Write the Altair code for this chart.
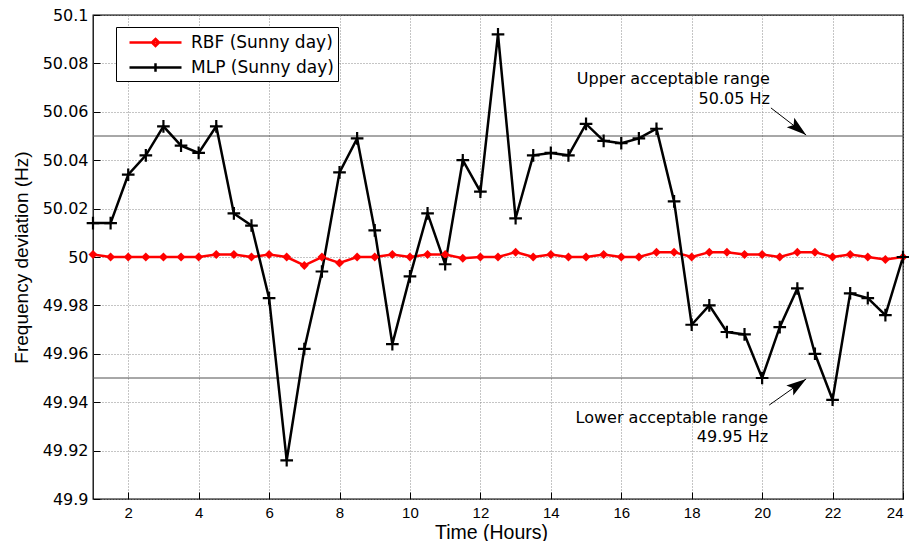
import altair as alt
import pandas as pd

hours = [1, 1.5, 2, 2.5, 3, 3.5, 4, 4.5, 5, 5.5, 6, 6.5, 7, 7.5, 8, 8.5, 9, 9.5,
         10, 10.5, 11, 11.5, 12, 12.5, 13, 13.5, 14, 14.5, 15, 15.5, 16, 16.5,
         17, 17.5, 18, 18.5, 19, 19.5, 20, 20.5, 21, 21.5, 22, 22.5, 23, 23.5, 24]

rbf = [50.001, 50.000, 50.000, 50.000, 50.000, 50.000, 50.000, 50.001, 50.001, 50.000,
       50.001, 50.000, 49.9965, 50.000, 49.9975, 50.000, 50.000, 50.001, 50.000, 50.001,
       50.001, 49.9995, 50.000, 50.000, 50.002, 50.000, 50.001, 50.000, 50.000, 50.001,
       50.000, 50.000, 50.002, 50.002, 50.000, 50.002, 50.002, 50.001, 50.001, 50.000,
       50.002, 50.002, 50.000, 50.001, 50.000, 49.999, 50.000]

mlp = [50.014, 50.014, 50.034, 50.042, 50.054, 50.046, 50.043, 50.054, 50.018, 50.013,
       49.983, 49.916, 49.962, 49.994, 50.035, 50.049, 50.011, 49.964, 49.992, 50.018,
       49.997, 50.040, 50.027, 50.092, 50.016, 50.042, 50.043, 50.042, 50.055, 50.048,
       50.047, 50.049, 50.053, 50.023, 49.972, 49.980, 49.969, 49.968, 49.950, 49.971,
       49.987, 49.960, 49.941, 49.985, 49.983, 49.976, 50.000]

series_names = ["RBF (Sunny day)", "MLP (Sunny day)"]
series_colors = ["#ff0000", "#000000"]

x_ticks = [2, 4, 6, 8, 10, 12, 14, 16, 18, 20, 22, 24]
y_ticks = [49.9, 49.92, 49.94, 49.96, 49.98, 50.0, 50.02, 50.04, 50.06, 50.08, 50.1]

thresholds = [50.05, 49.95]

ann_text = ["Upper acceptable range", "50.05 Hz", "Lower acceptable range", "49.95 Hz"]
ann_x = [20.22, 20.22, 20.17, 20.17]
ann_y = [50.0715, 50.0632, 49.9314, 49.9236]

arrow_x = [20.25, 20.2]
arrow_y = [50.0616, 49.9388]
arrow_x2 = [21.25, 21.25]
arrow_y2 = [50.0504, 49.9496]
arrow_angle = [38.6, 324.8]

df = pd.DataFrame({
    "hour": hours + hours,
    "value": rbf + mlp,
    "series": [series_names[0]] * len(hours) + [series_names[1]] * len(hours),
})
df_rbf = df[df.series == series_names[0]]
df_mlp = df[df.series == series_names[1]]
df_thr = pd.DataFrame({"value": thresholds})
df_ann = pd.DataFrame({"hour": ann_x, "value": ann_y, "text": ann_text})
df_arrow = pd.DataFrame({"hour": arrow_x, "value": arrow_y, "hour2": arrow_x2,
                         "value2": arrow_y2, "angle": arrow_angle})

xscale = alt.Scale(domain=[1, 24], nice=False, zero=False)
yscale = alt.Scale(domain=[49.9, 50.1], nice=False, zero=False)

xaxis = alt.Axis(values=x_ticks, title="Time (Hours)", grid=True,
                 labelFont="Liberation Sans", labelFontSize=15, labelPadding=6,
                 titleFont="Liberation Sans", titleFontSize=19.5, titleFontWeight="normal",
                 titleBaseline="alphabetic", titleY=46, titleX=398,
                 tickSize=7, offset=-7)
yaxis = alt.Axis(values=y_ticks, title="Frequency deviation (Hz)", grid=True, format=".2~f",
                 labelFont="DejaVu Sans", labelFontSize=16, labelPadding=5,
                 titleFont="Liberation Sans", titleFontSize=19, titleFontWeight="normal",
                 titleAngle=270, titleBaseline="middle", titleAlign="center",
                 titleX=-79, titleY=242,
                 tickSize=7, offset=-7)


def X(field="hour"):
    return alt.X(f"{field}:Q", scale=xscale, axis=xaxis)


def Y(field="value"):
    return alt.Y(f"{field}:Q", scale=yscale, axis=yaxis)


thr_layer = alt.Chart(df_thr).mark_rule(color="#505050", strokeWidth=1).encode(y=Y())

rbf_line = alt.Chart(df_rbf).mark_line(color="#ff0000", strokeWidth=2.5).encode(x=X(), y=Y())
mlp_line = alt.Chart(df_mlp).mark_line(color="#000000", strokeWidth=2.5).encode(x=X(), y=Y())

rbf_pts = alt.Chart(df_rbf).mark_point(shape="diamond", filled=True, color="#ff0000",
                                       size=80, opacity=1).encode(x=X(), y=Y())
mlp_pts = alt.Chart(df_mlp).mark_point(shape="M-1,0H1M0,-1V1", filled=False, color="#000000",
                                       size=160, strokeWidth=2.2, opacity=1).encode(x=X(), y=Y())

legend_paths = ["M-2.6,0H2.6M0,-0.36L0.36,0L0,0.36L-0.36,0Z",
                "M-2.6,0H2.6M0,-0.42V0.42"]
leg = alt.Legend(title=None, orient="none", legendX=23, legendY=12,
                 fillColor="white", strokeColor="black", padding=4,
                 symbolSize=400, symbolStrokeWidth=2.5, symbolOpacity=1,
                 symbolOffset=24,
                 labelFont="DejaVu Sans", labelFontSize=17, labelColor="black",
                 labelOffset=24, rowPadding=4)
legend_layer = alt.Chart(df).mark_point(opacity=0, filled=False, strokeWidth=2.5).encode(
    x=X(), y=Y(),
    color=alt.Color("series:N", scale=alt.Scale(domain=series_names, range=series_colors),
                    legend=leg),
    shape=alt.Shape("series:N", scale=alt.Scale(domain=series_names, range=legend_paths),
                    legend=leg),
)

ann_layer = alt.Chart(df_ann).mark_text(align="right", baseline="alphabetic",
                                        font="DejaVu Sans", fontSize=16, color="black").encode(
    x=X(), y=Y(), text="text:N")

arrow_lines = alt.Chart(df_arrow).mark_rule(color="black", strokeWidth=1).encode(
    x=X(), y=Y(), x2="hour2:Q", y2="value2:Q")
arrow_heads = alt.Chart(df_arrow).mark_point(shape="M0,0L-1,-0.3L-0.8,0L-1,0.3Z", filled=True,
                                             color="black", size=1600, opacity=1).encode(
    x=X("hour2"), y=Y("value2"), angle=alt.Angle("angle:Q", scale=None))

chart = alt.layer(
    thr_layer, rbf_line, mlp_line, rbf_pts, mlp_pts, legend_layer,
    ann_layer, arrow_lines, arrow_heads,
).properties(
    width=810, height=484,
    autosize=alt.AutoSizeParams(type="none"),
    padding={"left": 85, "top": 7, "right": 6, "bottom": 42},
).configure_view(
    stroke="black", strokeWidth=1.3,
).configure_axis(
    domain=False, tickColor="black", tickWidth=1, labelColor="black", titleColor="black",
    gridColor="#8a8a8a", gridDash=[1, 2], gridWidth=1,
)

chart.save("out.html", embed_options={"renderer": "svg", "actions": False})
